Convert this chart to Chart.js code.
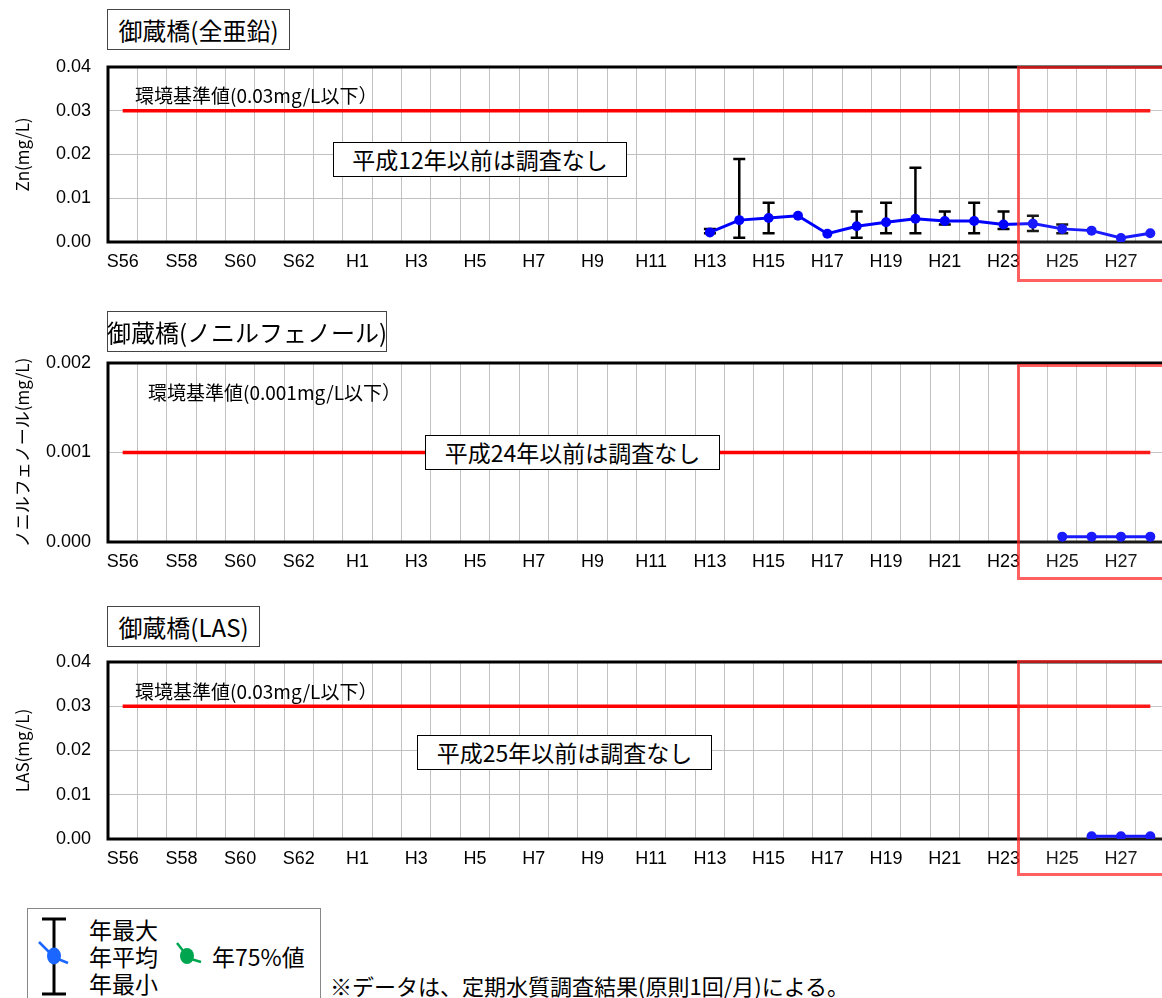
<!DOCTYPE html>
<html lang="ja">
<head>
<meta charset="utf-8">
<script src="https://cdn.jsdelivr.net/npm/chart.js@4.4.1/dist/chart.umd.min.js"></script>
<style>
html, body { margin: 0; padding: 0; background: #fff; overflow: hidden; }
#page { position: relative; width: 1162px; height: 998px; overflow: hidden; font-family: "Noto Sans CJK JP", sans-serif; color: #000; }
canvas { position: absolute; left: 0; }
.title { position: absolute; left: 107px; height: 41px; box-sizing: border-box; border: 1px solid #444; background: #fff; font-size: 24px; line-height: 1; display: flex; align-items: center; justify-content: center; white-space: nowrap; }
.std { position: absolute; font-size: 19px; line-height: 22px; white-space: nowrap; }
.nodata { position: absolute; height: 35px; box-sizing: border-box; border: 1px solid #000; background: #fff; font-size: 23px; line-height: 1; display: flex; align-items: center; justify-content: center; white-space: nowrap; }
.redbox { position: absolute; left: 1017px; width: 200px; box-sizing: border-box; border: 3px solid rgba(255, 30, 30, 0.7); background: rgba(255, 255, 255, 0.1); }
#legend { position: absolute; left: 27px; top: 908px; width: 294px; height: 100px; box-sizing: border-box; border: 1px solid #888; background: #fff; }
#legend span { position: absolute; font-size: 23px; line-height: 26px; white-space: nowrap; }
#note { position: absolute; left: 330px; top: 972px; font-size: 22px; line-height: 26px; white-space: nowrap; }
</style>
</head>
<body>
<div id="page">
  <canvas id="zn" width="1170" height="227" style="top:55px"></canvas>
  <canvas id="np" width="1170" height="231" style="top:351px"></canvas>
  <canvas id="las" width="1170" height="229" style="top:650px"></canvas>

  <div class="title" style="top:9px;width:183px">御蔵橋(全亜鉛)</div>
  <div class="title" style="top:311px;width:280px">御蔵橋(ノニルフェノール)</div>
  <div class="title" style="top:606px;width:153px">御蔵橋(LAS)</div>

  <div class="std" style="left:135px;top:84px">環境基準値(0.03mg/L以下）</div>
  <div class="std" style="left:148px;top:381px">環境基準値(0.001mg/L以下）</div>
  <div class="std" style="left:135px;top:680px">環境基準値(0.03mg/L以下）</div>

  <div class="nodata" style="left:333px;top:142px;width:294px">平成12年以前は調査なし</div>
  <div class="nodata" style="left:425px;top:435px;width:295px">平成24年以前は調査なし</div>
  <div class="nodata" style="left:417px;top:735px;width:295px">平成25年以前は調査なし</div>

  <div class="redbox" style="top:66px;height:216px"></div>
  <div class="redbox" style="top:364px;height:216px"></div>
  <div class="redbox" style="top:660px;height:216px"></div>

  <div id="legend">
    <svg width="292" height="98" style="position:absolute;left:0;top:0">
      <line x1="26" y1="10" x2="26" y2="85" stroke="#000" stroke-width="3"/>
      <line x1="14" y1="10" x2="38" y2="10" stroke="#000" stroke-width="3"/>
      <line x1="14" y1="85" x2="38" y2="85" stroke="#000" stroke-width="3"/>
      <line x1="11" y1="33" x2="22" y2="44" stroke="#1a66ff" stroke-width="2.5"/>
      <line x1="30" y1="50" x2="40" y2="54" stroke="#1a66ff" stroke-width="2.5"/>
      <ellipse cx="26" cy="47" rx="7" ry="8.5" fill="#1a66ff"/>
      <line x1="149" y1="34" x2="156" y2="43" stroke="#00a550" stroke-width="2.5"/>
      <line x1="163" y1="50" x2="173" y2="53" stroke="#00a550" stroke-width="2.5"/>
      <ellipse cx="159" cy="47" rx="7" ry="8" fill="#00a550"/>
    </svg>
    <span style="left:61px;top:7px">年最大</span>
    <span style="left:61px;top:34px">年平均</span>
    <span style="left:61px;top:61px">年最小</span>
    <span style="left:184px;top:34px">年75%値</span>
  </div>
  <div id="note">※データは、定期水質調査結果(原則1回/月)による。</div>
</div>

<script>
var years = ['S56', 'S57', 'S58', 'S59', 'S60', 'S61', 'S62', 'S63',
    'H1', 'H2', 'H3', 'H4', 'H5', 'H6', 'H7', 'H8', 'H9', 'H10',
    'H11', 'H12', 'H13', 'H14', 'H15', 'H16', 'H17', 'H18', 'H19', 'H20',
    'H21', 'H22', 'H23', 'H24', 'H25', 'H26', 'H27', 'H28'];

// 全亜鉛 (mg/L)
var znYears = ['H13', 'H14', 'H15', 'H16', 'H17', 'H18', 'H19', 'H20',
    'H21', 'H22', 'H23', 'H24', 'H25', 'H26', 'H27', 'H28'];
var znMean = [0.0022, 0.0050, 0.0055, 0.0060, 0.0019, 0.0036, 0.0045, 0.0053,
    0.0048, 0.0048, 0.0040, 0.0042, 0.0030, 0.0026, 0.0009, 0.0020];
var znMax = [0.0030, 0.0190, 0.0090, null, null, 0.0070, 0.0090, 0.0170,
    0.0070, 0.0090, 0.0070, 0.0060, 0.0040, null, null, null];
var znMin = [0.0020, 0.0010, 0.0020, null, null, 0.0010, 0.0020, 0.0020,
    0.0040, 0.0020, 0.0030, 0.0025, 0.0020, null, null, null];
var znStandard = 0.03;

// ノニルフェノール (mg/L)
var npYears = ['H25', 'H26', 'H27', 'H28'];
var npMean = [0.00006, 0.00006, 0.00006, 0.00006];
var npStandard = 0.001;

// LAS (mg/L)
var lasYears = ['H26', 'H27', 'H28'];
var lasMean = [0.0006, 0.0006, 0.0006];
var lasStandard = 0.03;

function spread(sub, vals) {
    return years.map(function (y) {
        var i = sub.indexOf(y);
        return i < 0 ? null : vals[i];
    });
}

var framePlugin = {
    id: 'frame',
    beforeDatasetsDraw: function (chart) {
        var a = chart.chartArea, ctx = chart.ctx;
        ctx.save();
        ctx.strokeStyle = '#000';
        ctx.lineWidth = 3;
        ctx.strokeRect(a.left, a.top, a.right - a.left, a.bottom - a.top);
        ctx.restore();
    }
};

function errorBars(maxVals, minVals) {
    return {
        id: 'errorBars',
        beforeDatasetsDraw: function (chart) {
            var x = chart.scales.x, y = chart.scales.y, ctx = chart.ctx;
            ctx.save();
            ctx.strokeStyle = '#000';
            ctx.lineWidth = 2.5;
            maxVals.forEach(function (hi, i) {
                var lo = minVals[i];
                if (hi == null || lo == null) return;
                var px = x.getPixelForValue(i);
                var yh = y.getPixelForValue(hi), yl = y.getPixelForValue(lo);
                ctx.beginPath();
                ctx.moveTo(px, yh); ctx.lineTo(px, yl);
                ctx.moveTo(px - 6, yh); ctx.lineTo(px + 6, yh);
                ctx.moveTo(px - 6, yl); ctx.lineTo(px + 6, yl);
                ctx.stroke();
            });
            ctx.restore();
        }
    };
}

function panel(id, mean, standard, yMax, step, digits, yTitle, maxVals, minVals) {
    var tickFont = { family: 'Arial, "Liberation Sans", sans-serif', size: 18 };
    return new Chart(id, {
        type: 'line',
        data: {
            labels: years,
            datasets: [{
                label: '年平均',
                data: mean,
                borderColor: '#0000ff',
                backgroundColor: '#0000ff',
                borderWidth: 3,
                pointRadius: 5,
                pointHoverRadius: 5,
                pointBorderWidth: 0,
                order: 0
            }, {
                label: '環境基準値',
                data: years.map(function () { return standard; }),
                borderColor: '#ff0000',
                borderWidth: 3.5,
                pointRadius: 0,
                order: 1
            }]
        },
        options: {
            responsive: false,
            animation: false,
            layout: { padding: { top: 12, right: 4, left: 0, bottom: 0 } },
            plugins: { legend: { display: false }, tooltip: { enabled: false } },
            scales: {
                x: {
                    offset: true,
                    grid: { offset: true, color: '#c0c0c0', lineWidth: 1, drawTicks: false },
                    border: { display: false },
                    ticks: {
                        autoSkip: false, maxRotation: 0, minRotation: 0, padding: 9,
                        color: '#000', font: tickFont,
                        callback: function (v, i) { return i % 2 === 0 ? years[i] : ''; }
                    },
                    afterFit: function (s) {
                        s.height = 40;
                        s.paddingLeft = 0;
                        s.paddingRight = 0;
                    }
                },
                y: {
                    min: 0,
                    max: yMax,
                    grid: { color: '#c0c0c0', lineWidth: 1, drawTicks: false },
                    border: { display: false },
                    ticks: {
                        stepSize: step, padding: 17, color: '#000', font: tickFont,
                        callback: function (v) { return Number(v).toFixed(digits); }
                    },
                    title: {
                        display: true, text: yTitle, color: '#000', padding: { top: 12, bottom: 0 },
                        font: { family: '"Noto Sans CJK JP", sans-serif', size: 17 }
                    },
                    afterFit: function (s) {
                        s.width = 108;
                        s.paddingTop = 0;
                        s.paddingBottom = 0;
                    }
                }
            }
        },
        plugins: [framePlugin, errorBars(maxVals, minVals)]
    });
}

panel('zn', spread(znYears, znMean), znStandard, 0.04, 0.01, 2, 'Zn(mg/L)',
    spread(znYears, znMax), spread(znYears, znMin));
panel('np', spread(npYears, npMean), npStandard, 0.002, 0.001, 3, 'ノニルフェノール(mg/L)', [], []);
panel('las', spread(lasYears, lasMean), lasStandard, 0.04, 0.01, 2, 'LAS(mg/L)', [], []);
</script>
</body>
</html>
